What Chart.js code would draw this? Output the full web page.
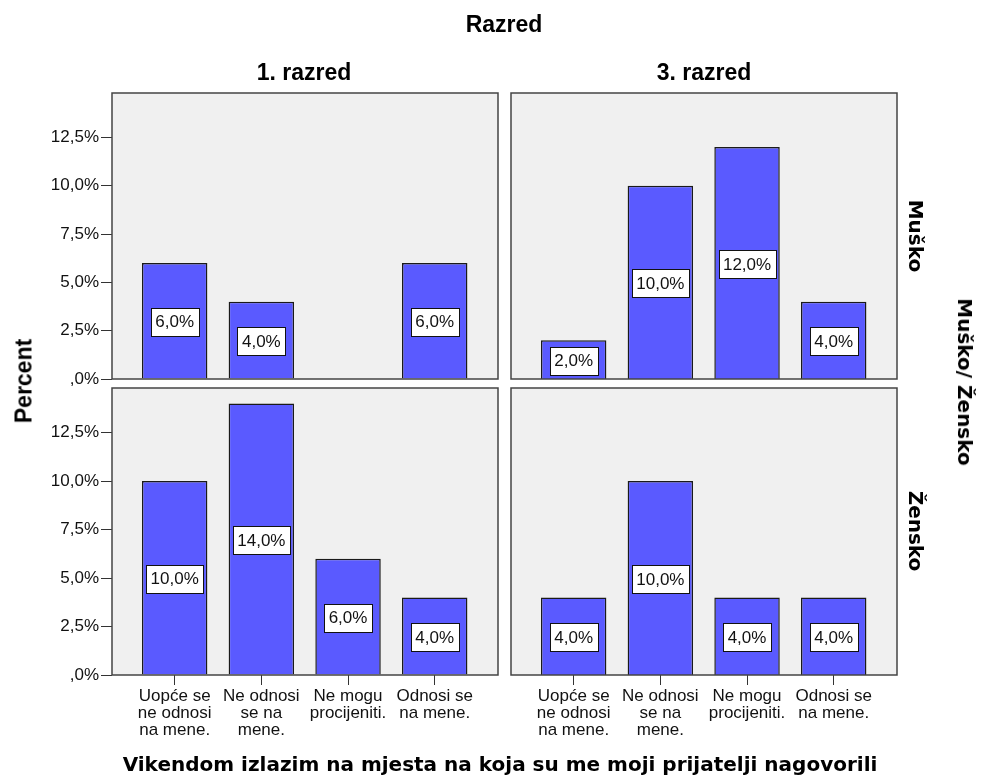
<!DOCTYPE html>
<html>
<head>
<meta charset="utf-8">
<script src="https://cdn.jsdelivr.net/npm/chart.js@4.4.1/dist/chart.umd.min.js"></script>
<style>
  body { margin: 0; background: #fff; }
  #wrap { position: relative; width: 981px; height: 778px; overflow: hidden; }
  canvas { position: absolute; left: 0; top: 0; }
  .t { position: absolute; white-space: nowrap; line-height: 1; color: #000; transform: translate(-50%, -50%); }
  .ar { font-family: "Liberation Sans", Arial, sans-serif; font-weight: bold; font-size: 23px; }
  .dv { font-family: "DejaVu Sans", sans-serif; font-weight: bold; font-size: 20px; }
  .up { transform: translate(-50%, -50%) rotate(-90deg); }
  .down { transform: translate(-50%, -50%) rotate(90deg); }
</style>
</head>
<body>
<div id="wrap">
  <canvas id="c11" width="981" height="778"></canvas>
  <canvas id="c13" width="981" height="778"></canvas>
  <canvas id="c21" width="981" height="778"></canvas>
  <canvas id="c23" width="981" height="778"></canvas>

  <div class="t ar" style="left:504px; top:24px;">Razred</div>
  <div class="t ar" style="left:304px; top:72px;">1. razred</div>
  <div class="t ar" style="left:704px; top:72px;">3. razred</div>
  <div class="t ar up" style="left:24px; top:381px;">Percent</div>
  <div class="t dv down" style="left:916px; top:236px;">Muško</div>
  <div class="t dv down" style="left:916px; top:531px;">Žensko</div>
  <div class="t dv down" style="left:965px; top:382px;">Muško/ Žensko</div>
  <div class="t dv" style="left:500px; top:764px;">Vikendom izlazim na mjesta na koja su me moji prijatelji nagovorili</div>
</div>

<script>
// data
const categories = [
  ['Uopće se', 'ne odnosi', 'na mene.'],
  ['Ne odnosi', 'se na', 'mene.'],
  ['Ne mogu', 'procijeniti.'],
  ['Odnosi se', 'na mene.']
];
const yTicks = [0, 2.5, 5, 7.5, 10, 12.5];
const musko1 = [6, 4, null, 6];     // 1. razred, Muško
const musko3 = [2, 10, 12, 4];      // 3. razred, Muško
const zensko1 = [10, 14, 6, 4];     // 1. razred, Žensko
const zensko3 = [4, 10, 4, 4];      // 3. razred, Žensko

const FONT = '"Liberation Sans", Arial, sans-serif';
const W = 981, H = 778;
const X_AXIS_H = 60;

// comma decimals like the SPSS output (",0%" for zero)
function pct(v) {
  if (v === 0) return ',0%';
  return v.toFixed(1).replace('.', ',') + '%';
}

// panel background, frame and the boxed value labels
const panelFrame = {
  id: 'panelFrame',
  beforeDraw(chart) {
    const { ctx, chartArea: { left, top, width, height } } = chart;
    ctx.save();
    ctx.fillStyle = '#f0f0f0';
    ctx.fillRect(left, top, width, height);
    ctx.restore();
  },
  afterDatasetsDraw(chart) {
    const { ctx, chartArea: { left, top, width, height } } = chart;
    ctx.save();
    ctx.strokeStyle = '#444';
    ctx.lineWidth = 1.5;
    ctx.strokeRect(left, top, width, height);

    ctx.font = '17px ' + FONT;
    ctx.textAlign = 'center';
    ctx.textBaseline = 'middle';
    const meta = chart.getDatasetMeta(0);
    meta.data.forEach((bar, i) => {
      const v = chart.data.datasets[0].data[i].y;
      if (v == null) return;
      const text = pct(v);
      const w = Math.round(ctx.measureText(text).width + 9);
      const h = 28;
      const cy = (bar.y + bar.base) / 2 + 1;
      const bx = Math.round(bar.x - w / 2) + 0.5;
      const by = Math.round(cy - h / 2) + 0.5;
      ctx.fillStyle = '#fff';
      ctx.fillRect(bx, by, w, h);
      ctx.strokeStyle = '#111';
      ctx.lineWidth = 1;
      ctx.strokeRect(bx, by, w, h);
      ctx.fillStyle = '#111';
      ctx.fillText(text, bar.x, cy + 1);
    });
    ctx.restore();
  }
};

function makePanel(id, values, area, showY, showX) {
  return new Chart(document.getElementById(id), {
    type: 'bar',
    data: {
      datasets: [{
        data: values.map((v, i) => ({ x: i, y: v })),
        backgroundColor: '#5a5aff',
        borderColor: '#1a1a1a',
        borderWidth: 1.5,
        categoryPercentage: 1,
        barPercentage: 0.755
      }]
    },
    options: {
      responsive: false,
      animation: false,
      devicePixelRatio: 1,
      layout: {
        padding: {
          left: showY ? 0 : area.left,
          top: area.top,
          right: W - area.right,
          bottom: showX ? H - area.bottom - X_AXIS_H : H - area.bottom
        }
      },
      plugins: {
        legend: { display: false },
        tooltip: { enabled: false }
      },
      scales: {
        x: {
          type: 'linear',
          display: showX,
          min: -0.723,
          max: 3.73,
          offset: false,
          afterBuildTicks: s => { s.ticks = categories.map((c, i) => ({ value: i })); },
          afterFit: s => { if (showX) s.height = X_AXIS_H; },
          grid: { drawOnChartArea: false, drawTicks: true, tickLength: 10, tickColor: '#333', offset: false },
          border: { display: false },
          ticks: {
            autoSkip: false, maxRotation: 0, minRotation: 0, padding: 3, color: '#111',
            font: { family: FONT, size: 17, lineHeight: 1 },
            callback: v => categories[v]
          }
        },
        y: {
          display: showY,
          min: 0,
          max: 14.8,
          afterBuildTicks: s => { s.ticks = yTicks.map(v => ({ value: v })); },
          afterFit: s => { if (showY) s.width = area.left; },
          grid: { drawOnChartArea: false, drawTicks: true, tickLength: 11, tickColor: '#333' },
          border: { display: false },
          ticks: {
            padding: 2, color: '#111',
            font: { family: FONT, size: 17 },
            callback: v => pct(v)
          }
        }
      }
    },
    plugins: [panelFrame]
  });
}

makePanel('c11', musko1, { left: 112, top: 93, right: 498, bottom: 379 }, true, false);
makePanel('c13', musko3, { left: 511, top: 93, right: 897, bottom: 379 }, false, false);
makePanel('c21', zensko1, { left: 112, top: 388, right: 498, bottom: 675 }, true, true);
makePanel('c23', zensko3, { left: 511, top: 388, right: 897, bottom: 675 }, false, true);
</script>
</body>
</html>
